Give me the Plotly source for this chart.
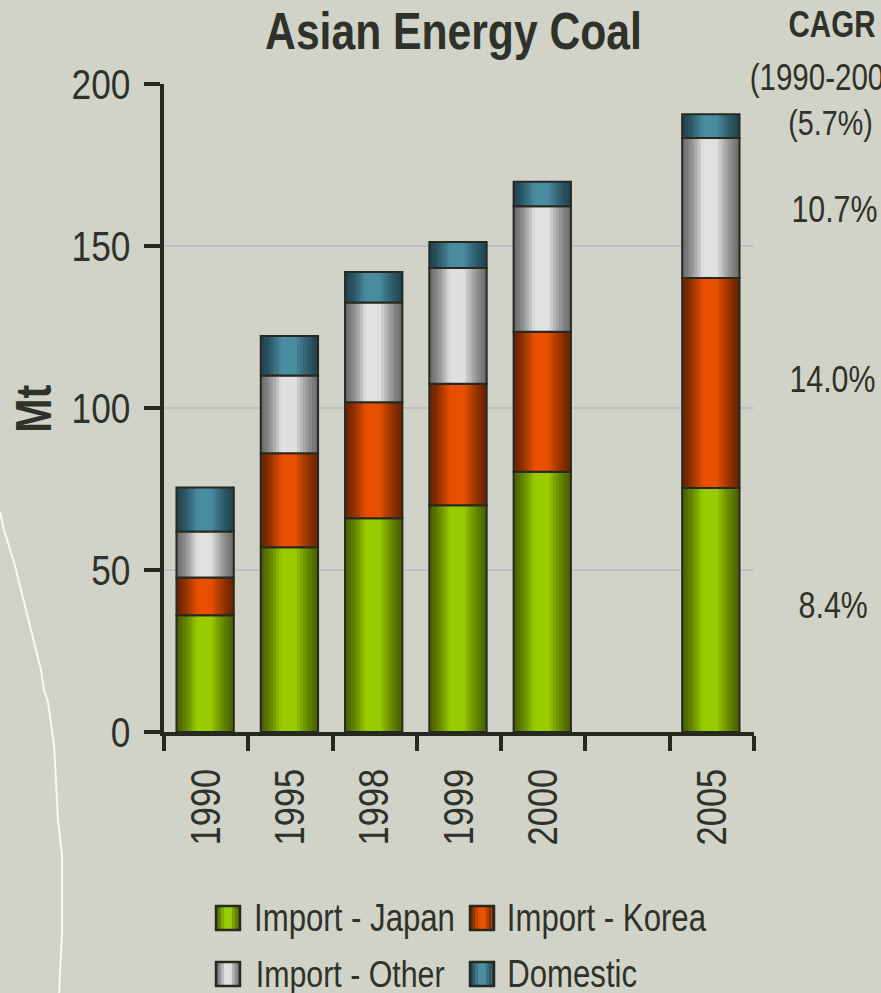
import plotly.graph_objects as go

categories = ["1990", "1995", "1998", "1999", "2000", " ", "2005"]
series_names = ["Import - Japan", "Import - Korea", "Import - Other", "Domestic"]
japan = [36, 57, 66, 70, 80.3, None, 75.3]
korea = [11.7, 29, 35.8, 37.5, 43.2, None, 64.8]
other = [14.2, 24, 30.8, 35.7, 38.8, None, 43.2]
domestic = [13.6, 12.2, 9.4, 8, 7.5, None, 7.4]
y_ticks = [0, 50, 100, 150, 200]
cagr_labels = ["10.7%", "14.0%", "8.4%"]

W, H = 881, 993
L, R, T, B = 164, 754, 84, 732
BG = "#D2D3C8"
INK = "#252920"
TEXT = "#2E322A"
FONT = "Liberation Sans"
BRIGHT = ["#99CC00", "#E85000", "#E0E0E0", "#4A8CA0"]
DARK = ["#4A6200", "#6A2400", "#6C6C6C", "#224350"]
STRIPS = 19
BAR_W = 0.68
BAR_SHIFT = -0.012


def hex2rgb(c):
    return [int(c[i:i + 2], 16) for i in (1, 3, 5)]


def shade(k, p):
    if p < 0.36:
        t = (p / 0.36) ** 1.4
    elif p < 0.6:
        t = 1
    else:
        t = ((1 - p) / 0.4) ** 1.3
    a, b = hex2rgb(DARK[k]), hex2rgb(BRIGHT[k])
    return "rgb(%d,%d,%d)" % tuple(a[i] + (b[i] - a[i]) * t for i in range(3))


def px(x):
    return (x - L) / (R - L)


def py(y):
    return (B - y) / (B - T)


fig = go.Figure()
values = [japan, korea, other, domestic]
base = [0 if v is not None else None for v in japan]
for k, vals in enumerate(values):
    for s in range(STRIPS):
        strip_w = BAR_W / STRIPS * (1.5 if s < STRIPS - 1 else 1)
        fig.add_trace(go.Bar(
            x=categories, y=vals, base=base, width=strip_w,
            offset=BAR_SHIFT - BAR_W / 2 + BAR_W * s / STRIPS,
            marker=dict(color=shade(k, (s + 0.5) / STRIPS), line_width=0),
            showlegend=False, hoverinfo="skip"))
    fig.add_trace(go.Bar(
        x=categories, y=vals, base=base, width=BAR_W, offset=BAR_SHIFT - BAR_W / 2,
        name=series_names[k],
        marker=dict(color="rgba(0,0,0,0)", line=dict(color=INK, width=2)),
        showlegend=False))
    base = [b + v if v is not None else None for b, v in zip(base, vals)]

shapes = []
# white contour line in the page background
curve = [(0, 512), (4, 530), (14, 562), (28, 618), (41, 670), (44, 690), (48, 702),
         (54, 745), (58, 820), (62, 855), (62, 932), (59, 993)]
path = "M" + " L".join("%f,%f" % (px(x), py(y)) for x, y in curve)
shapes.append(dict(type="path", xref="paper", yref="paper", path=path,
                   line=dict(color="#F8F8F4", width=2), layer="below"))

# legend swatches with the same shading as the bars
legend_pos = [(216, 906, 354, 38), (470, 906, 607, 38), (216, 962, 349.5, 37), (470, 962, 571.5, 38)]
anns = []
for k, (sx, sy, tx, size) in enumerate(legend_pos):
    n = 9
    for s in range(n):
        shapes.append(dict(type="rect", xref="paper", yref="paper",
                           x0=px(sx + 24 * s / n), x1=px(sx + 24 * (s + 1) / n + 0.3),
                           y0=py(sy), y1=py(sy + 24),
                           fillcolor=shade(k, (s + 0.5) / n), line_width=0))
    shapes.append(dict(type="rect", xref="paper", yref="paper",
                       x0=px(sx), x1=px(sx + 24), y0=py(sy), y1=py(sy + 24),
                       line=dict(color=INK, width=2.5)))
    anns.append(dict(text=series_names[k], x=px(tx), y=py(sy + 12), xref="paper", yref="paper",
                     xanchor="center", yanchor="middle", showarrow=False,
                     font=dict(size=size, color=TEXT, family=FONT)))

side = [("CAGR", 832, 24, 36, "bold"), ("(1990-2005)", 830, 78, 36, "normal"), ("(5.7%)", 830, 122, 35, "normal"),
        (cagr_labels[0], 834, 209, 37, "normal"), (cagr_labels[1], 832, 379, 37, "normal"),
        (cagr_labels[2], 833, 605, 37, "normal")]
for text, x, y, size, weight in side:
    anns.append(dict(text=text, x=px(x), y=py(y), xref="paper", yref="paper",
                     xanchor="center", yanchor="middle", showarrow=False,
                     font=dict(size=size, color=TEXT, family=FONT, weight=weight)))
anns.append(dict(text="Mt", x=px(34), y=py(409), xref="paper", yref="paper", textangle=-90,
                 xanchor="center", yanchor="middle", showarrow=False,
                 font=dict(size=50, color=TEXT, family=FONT, weight="bold")))

fig.update_layout(
    width=W, height=H, autosize=False,
    margin=dict(l=L, r=W - R, t=T, b=H - B, pad=0),
    paper_bgcolor=BG, plot_bgcolor=BG,
    barmode="overlay",
    font=dict(family=FONT, color=TEXT, size=40),
    title=dict(text="Asian Energy Coal", xref="container", yref="container",
               x=453.5 / W, y=1 - 31 / H, xanchor="center", yanchor="middle",
               font=dict(size=52, color=TEXT, family=FONT, weight="bold")),
    xaxis=dict(type="category", categoryorder="array", categoryarray=categories,
               tickson="boundaries", ticks="outside", ticklen=15, tickwidth=4, tickcolor=INK,
               tickangle=-90, ticklabelstandoff=16, showline=True, linewidth=4, linecolor=INK,
               showgrid=False, tickfont=dict(size=42, color=TEXT, family=FONT), automargin=False),
    yaxis=dict(range=[0, 200], tickvals=y_ticks, ticks="outside", ticklen=16, tickwidth=4,
               tickcolor=INK, ticklabelstandoff=5, showline=True, linewidth=4, linecolor=INK,
               showgrid=True, gridcolor="#BFC0C4", gridwidth=2, zeroline=False,
               tickfont=dict(size=43, color=TEXT, family=FONT), automargin=False),
    shapes=shapes, annotations=anns, showlegend=False,
)

post = """
var gd = document.getElementById('{plot_id}');
document.documentElement.style.margin = '0';
document.body.style.margin = '0';
document.body.style.background = '#D2D3C8';
function squeeze() {
  gd.querySelectorAll('svg text').forEach(function (t) {
    if (!t.dataset.w) { t.dataset.w = t.getComputedTextLength(); }
    t.setAttribute('textLength', t.dataset.w * 0.82);
    t.setAttribute('lengthAdjust', 'spacingAndGlyphs');
  });
}
squeeze();
setTimeout(squeeze, 50);
"""
fig.write_html("out.html", post_script=post, config=dict(displayModeBar=False))
